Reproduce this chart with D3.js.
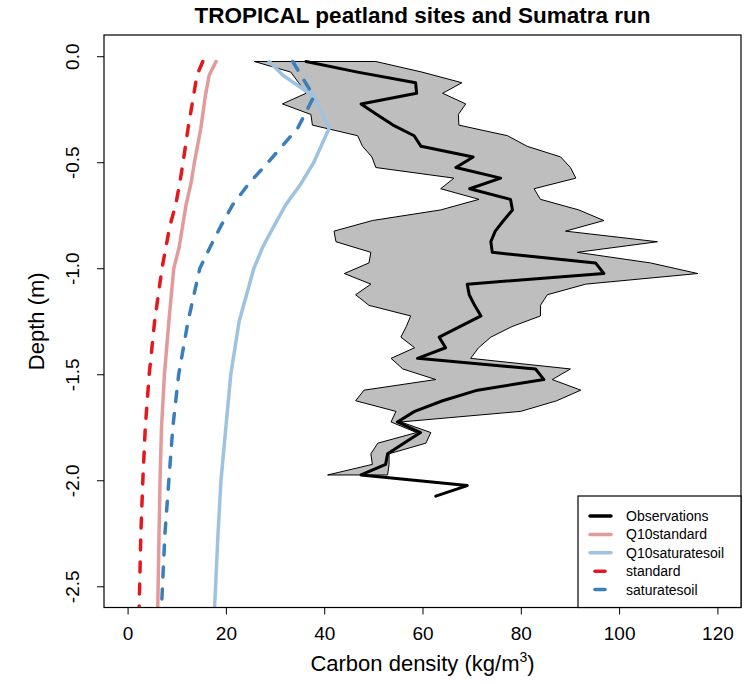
<!DOCTYPE html>
<html>
<head>
<meta charset="utf-8">
<script src="https://cdn.jsdelivr.net/npm/d3@7"></script>
<style>
  body { margin: 0; background: #fff; }
  svg { display: block; font-family: "Liberation Sans", Arial, sans-serif; }
</style>
</head>
<body>
<script>
// observed profile (depth in m, carbon density in kg/m3)
const obsDepth = [-0.025, -0.075, -0.125, -0.175, -0.225, -0.275, -0.325, -0.375, -0.425, -0.475,
  -0.525, -0.575, -0.625, -0.675, -0.725, -0.775, -0.825, -0.875, -0.925, -0.975,
  -1.025, -1.075, -1.125, -1.175, -1.225, -1.275, -1.325, -1.375, -1.425, -1.475,
  -1.525, -1.575, -1.625, -1.675, -1.725, -1.775, -1.825, -1.875, -1.925, -1.975,
  -2.025, -2.075];
const obsMean = [36.3, 46.8, 58.6, 58.8, 47.5, 50.7, 54.0, 58.3, 59.7, 70.3,
  66.8, 75.9, 69.6, 77.9, 78.3, 76.5, 74.8, 73.9, 74.2, 95.2,
  96.9, 69.1, 69.5, 70.6, 71.9, 67.6, 63.4, 64.7, 59.0, 83.0,
  84.7, 71.2, 64.1, 58.4, 54.9, 59.6, 56.2, 52.9, 52.5, 47.5,
  69.1, 62.7];
// range of the sites (only down to -1.975)
const obsMin = [25.8, 33.2, 34.8, 36.3, 31.5, 37.3, 37.6, 46.8, 47.8, 49.7,
  50.5, 66.4, 63.7, 71.5, 63.7, 49.8, 42.0, 42.4, 49.5, 49.1,
  44.1, 49.5, 46.4, 49.1, 57.6, 56.7, 55.6, 58.4, 53.6, 56.0,
  62.7, 48.1, 46.4, 54.6, 53.6, 58.8, 50.9, 49.5, 49.8, 40.7];
const obsMax = [50.5, 59.9, 68.0, 64.1, 68.8, 67.3, 67.4, 77.3, 81.3, 88.1,
  90.1, 91.2, 82.7, 84.0, 91.8, 96.9, 89.1, 107.8, 91.5, 106.4,
  116.0, 93.2, 85.4, 84.0, 84.0, 78.2, 73.9, 71.4, 69.8, 90.1,
  86.4, 92.2, 87.3, 80.0, 55.6, 61.7, 60.7, 53.2, 53.2, 52.9];

// Sumatra model runs
const modelDepth = [-0.025, -0.09, -0.19, -0.34, -0.5, -0.6, -0.7, -0.8, -0.9, -1.0,
  -1.25, -1.5, -1.75, -2.0, -2.25, -2.65];
const q10standard = [18.0, 16.6, 15.8, 14.9, 13.6, 12.9, 11.9, 11.2, 10.5, 9.4,
  8.4, 7.5, 6.9, 6.6, 6.4, 6.1];
const q10saturatesoil = [28.8, 31.6, 37.9, 41.0, 37.9, 35.3, 32.2, 29.8, 27.5, 25.7,
  22.7, 21.0, 20.0, 19.0, 18.4, 17.6];
const standard = [15.3, 14.1, 13.4, 12.3, 11.3, 10.6, 9.8, 8.6, 7.8, 7.0,
  5.5, 4.4, 3.6, 3.1, 2.7, 2.3];
const saturatesoil = [33.6, 35.3, 37.9, 34.6, 28.6, 24.7, 21.4, 19.0, 16.8, 14.7,
  12.3, 10.4, 9.2, 8.4, 7.6, 6.8];

const xTicks = [0, 20, 40, 60, 80, 100, 120];
const yTicks = [0, -0.5, -1.0, -1.5, -2.0, -2.5];
const legendLabels = ["Observations", "Q10standard", "Q10saturatesoil", "standard", "saturatesoil"];

const main = () => {
  const width = 756, height = 684;
  const left = 104, right = 741, top = 35, bottom = 607.5;

  const x = d3.scaleLinear().domain([-4.8, 124.8]).range([left, right]);
  const y = d3.scaleLinear().domain([0.1, -2.6]).range([top, bottom]);

  const svg = d3.select("body").append("svg")
    .attr("width", width)
    .attr("height", height);

  svg.append("clipPath").attr("id", "plot")
    .append("rect")
    .attr("x", left).attr("y", top)
    .attr("width", right - left).attr("height", bottom - top);

  const g = svg.append("g").attr("clip-path", "url(#plot)");

  // grey band of the observed range
  const band = obsMin.map((v, i) => [x(v), y(obsDepth[i])])
    .concat(obsMax.map((v, i) => [x(v), y(obsDepth[i])]).reverse());
  g.append("path")
    .attr("d", "M" + band.join("L") + "Z")
    .attr("fill", "#bebebe")
    .attr("stroke", "#000")
    .attr("stroke-width", 1)
    .attr("stroke-linejoin", "miter");

  const series = [
    { vals: q10standard, color: "#e39a9b", width: 3.5, dash: null },
    { vals: q10saturatesoil, color: "#9ec3e0", width: 3.5, dash: null },
    { vals: standard, color: "#e3191e", width: 3.5, dash: "10,12" },
    { vals: saturatesoil, color: "#3a7ebb", width: 3.5, dash: "10,12" }
  ];

  const line = d3.line()
    .x(d => x(d[0]))
    .y(d => y(d[1]));

  series.forEach(s => {
    g.append("path")
      .attr("d", line(s.vals.map((v, i) => [v, modelDepth[i]])))
      .attr("fill", "none")
      .attr("stroke", s.color)
      .attr("stroke-width", s.width)
      .attr("stroke-linecap", "round")
      .attr("stroke-linejoin", "round")
      .attr("stroke-dasharray", s.dash);
  });

  g.append("path")
    .attr("d", line(obsMean.map((v, i) => [v, obsDepth[i]])))
    .attr("fill", "none")
    .attr("stroke", "#000")
    .attr("stroke-width", 3)
    .attr("stroke-linecap", "round")
    .attr("stroke-linejoin", "round");

  // axes
  const xAxis = svg.append("g")
    .attr("transform", `translate(0,${bottom})`)
    .call(d3.axisBottom(x).tickValues(xTicks).tickSize(7).tickSizeOuter(0));
  xAxis.select(".domain").remove();
  xAxis.selectAll("line").attr("stroke", "#000").attr("stroke-width", 1);
  xAxis.selectAll("text")
    .attr("y", 32).attr("dy", 0)
    .attr("font-size", 19).attr("fill", "#000");

  const yAxis = svg.append("g")
    .attr("transform", `translate(${left},0)`)
    .call(d3.axisLeft(y).tickValues(yTicks).tickSize(7).tickSizeOuter(0)
      .tickFormat(d => d.toFixed(1)));
  yAxis.select(".domain").remove();
  yAxis.selectAll("line").attr("stroke", "#000").attr("stroke-width", 1);
  yAxis.selectAll("text")
    .attr("transform", "rotate(-90)")
    .attr("x", 0).attr("y", -25).attr("dy", 0)
    .attr("text-anchor", "middle")
    .attr("font-size", 19).attr("fill", "#000");

  svg.append("rect")
    .attr("x", left).attr("y", top)
    .attr("width", right - left).attr("height", bottom - top)
    .attr("fill", "none").attr("stroke", "#000").attr("stroke-width", 1.2);

  // titles
  svg.append("text")
    .attr("x", (left + right) / 2).attr("y", 23)
    .attr("text-anchor", "middle")
    .attr("font-size", 22.5).attr("font-weight", "bold")
    .text("TROPICAL peatland sites and Sumatra run");

  const xl = svg.append("text")
    .attr("x", (left + right) / 2).attr("y", 671)
    .attr("text-anchor", "middle")
    .attr("font-size", 22);
  xl.append("tspan").text("Carbon density (kg/m");
  xl.append("tspan").attr("font-size", 14).attr("dy", -9).text("3");
  xl.append("tspan").attr("dy", 9).text(")");

  svg.append("text")
    .attr("transform", `translate(44,${(top + bottom) / 2}) rotate(-90)`)
    .attr("text-anchor", "middle")
    .attr("font-size", 22)
    .text("Depth (m)");

  // legend
  const lx = 578, ly = 496;
  svg.append("rect")
    .attr("x", lx).attr("y", ly)
    .attr("width", right - lx).attr("height", bottom - ly)
    .attr("fill", "#fff").attr("stroke", "#000").attr("stroke-width", 1.2);

  const legendStyle = [
    { color: "#000", dash: null },
    { color: "#e39a9b", dash: null },
    { color: "#9ec3e0", dash: null },
    { color: "#e3191e", dash: "10,14" },
    { color: "#3a7ebb", dash: "10,14" }
  ];
  const item = svg.selectAll(".leg")
    .data(legendLabels)
    .enter().append("g")
    .attr("transform", (d, i) => `translate(${lx},${ly + 20 + i * 18.4})`);
  item.append("line")
    .attr("x1", (d, i) => legendStyle[i].dash ? 17 : 12)
    .attr("x2", (d, i) => legendStyle[i].dash ? 27 : 33)
    .attr("stroke", (d, i) => legendStyle[i].color)
    .attr("stroke-width", 3.5)
    .attr("stroke-linecap", "round");
  item.append("text")
    .attr("x", 48).attr("dy", "0.35em")
    .attr("font-size", 14)
    .text(d => d);
};

window.onload = main;
</script>
</body>
</html>
